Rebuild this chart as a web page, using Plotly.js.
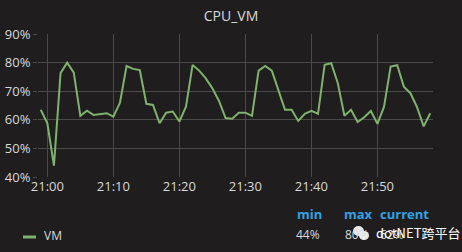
<!DOCTYPE html>
<html>
<head>
<meta charset="utf-8">
<script src="https://cdn.plot.ly/plotly-3.0.1.min.js"></script>
<style>
html,body{margin:0;padding:0;background:#1f1d1e;}
#chart{width:462px;height:252px;}
</style>
</head>
<body>
<div id="chart"></div>
<script>
// Data (one sample per minute, starting 20:59)
var startTime = "2024-01-01T20:59:00";
var vmValues = [63.5, 58.8, 44.0, 76.3, 80.0, 76.5, 61.4, 63.2, 61.7, 62.0,
                62.3, 61.1, 66.0, 78.8, 77.8, 77.4, 65.6, 65.2, 58.8, 62.5,
                62.9, 59.4, 64.6, 79.2, 77.2, 74.5, 71.0, 66.6, 60.6, 60.4,
                62.5, 62.5, 61.4, 77.2, 78.8, 77.2, 70.5, 63.5, 63.5, 59.6,
                62.1, 63.1, 62.1, 79.2, 79.8, 72.8, 61.4, 63.5, 59.2, 60.9,
                63.1, 58.6, 64.6, 78.6, 79.1, 71.6, 69.3, 64.4, 57.7, 62.3];
var yTickVals = [40, 50, 60, 70, 80, 90];
var yTickText = ["40%", "50%", "60%", "70%", "80%", "90%"];
var seriesName = "VM";
var legendHeaders = ["min", "max", "current"];
var watermark = "dotNET跨平台";

var t0 = new Date(startTime + "Z").getTime();
function fmt(ms){
  var d = new Date(ms);
  var p = function(n){return (n<10?"0":"")+n;};
  return d.getUTCFullYear()+"-"+p(d.getUTCMonth()+1)+"-"+p(d.getUTCDate())+" "+p(d.getUTCHours())+":"+p(d.getUTCMinutes())+":"+p(d.getUTCSeconds());
}
var times = vmValues.map(function(_, i){ return fmt(t0 + i*60000); });

var vMin = Math.min.apply(null, vmValues);
var vMax = Math.max.apply(null, vmValues);
var vCur = vmValues[vmValues.length-1];

var W = 462, H = 252, L = 38, R = 29, T = 34, B = 75;
var pw = W - L - R, ph = H - T - B;
function px(x){ return (x - L) / pw; }
function py(y){ return (H - B - y) / ph; }

var fontFam = "'Open Sans', 'Noto Sans', sans-serif";
var textCol = "#d8d9da";
var blue = "#33a2e5";

var trace = {
  x: times, y: vmValues, type: "scatter", mode: "lines", name: seriesName,
  line: {color: "#7eb26d", width: 2}, hoverinfo: "skip"
};

function ann(text, x, y, opts){
  var a = {text: text, x: px(x), y: py(y), xref: "paper", yref: "paper",
    xanchor: "left", yanchor: "middle", showarrow: false,
    font: {family: fontFam, size: 12, color: textCol}};
  for (var k in opts) a[k] = opts[k];
  return a;
}

var annotations = [
  ann(legendHeaders[0], 295, 214, {font:{family:fontFam,size:13,color:blue,weight:700}}),
  ann(legendHeaders[1], 342, 214, {font:{family:fontFam,size:13,color:blue,weight:700}}),
  ann(legendHeaders[2], 378, 214, {font:{family:fontFam,size:13,color:blue,weight:700}}),
  ann(seriesName, 42, 235, {font:{family:fontFam,size:12,color:textCol}}),
  ann(Math.round(vMin)+"%", 294, 234, {}),
  ann(Math.round(vMax)+"%", 343, 234, {}),
  ann(Math.round(vCur)+"%", 378, 234, {}),
  ann(watermark, 374, 232, {font:{family:"'Noto Sans CJK SC', 'Noto Sans', sans-serif",size:13,color:"#ffffff"}})
];

var shapes = [
  {type:"line", xref:"paper", yref:"paper", x0:px(23), x1:px(36), y0:py(237), y1:py(237),
   line:{color:"#7eb26d", width:3}},
  {type:"circle", xref:"paper", yref:"paper", x0:px(353), x1:px(364), y0:py(236), y1:py(226),
   fillcolor:"#e8e8e8", line:{width:0}},
  {type:"circle", xref:"paper", yref:"paper", x0:px(359), x1:px(369), y0:py(240), y1:py(231),
   fillcolor:"#f4f4f4", line:{width:0}}
];

var layout = {
  width: W, height: H,
  margin: {l: L, r: R, t: T, b: B, pad: 0},
  paper_bgcolor: "#1f1d1e", plot_bgcolor: "#1f1d1e",
  showlegend: false,
  title: {text: "CPU_VM", x: 0.5, xanchor: "center", y: 1 - 16/H, yref: "container", yanchor: "middle",
          font: {family: fontFam, size: 14, color: textCol, weight: 500}},
  font: {family: fontFam, color: textCol, size: 12},
  xaxis: {
    type: "date",
    range: ["2024-01-01 20:58:35", "2024-01-01 21:58:25"],
    tickformat: "%H:%M", dtick: 600000, tick0: "2024-01-01 21:00:00",
    showgrid: true, gridcolor: "#4a4a4a", gridwidth: 1,
    zeroline: false, showline: false, ticks: "", ticklen: 0,
    tickfont: {family: fontFam, size: 13, color: textCol}
  },
  yaxis: {
    range: [40, 90], tickvals: yTickVals, ticktext: yTickText,
    showgrid: true, gridcolor: "#4a4a4a", gridwidth: 1,
    zeroline: false, showline: false, ticks: "outside", ticklen: 4, tickcolor: "#4a4a4a",
    tickfont: {family: fontFam, size: 13, color: textCol}
  },
  annotations: annotations,
  shapes: shapes
};

Plotly.newPlot("chart", [trace], layout, {displayModeBar: false, staticPlot: true});
</script>
</body>
</html>
